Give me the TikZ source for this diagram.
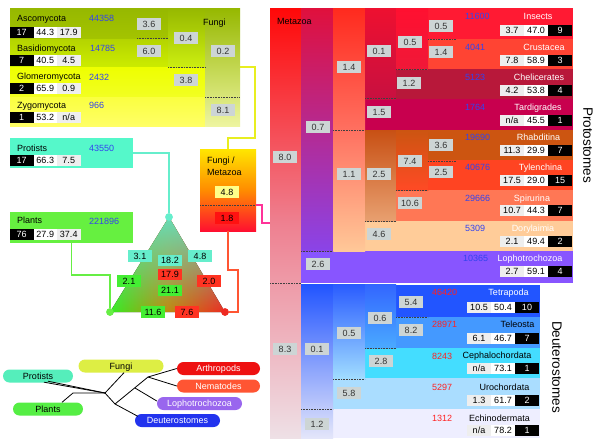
\documentclass[tikz,border=0pt]{standalone}
\usepackage{fontspec}
\setmainfont{Liberation Sans}
\usetikzlibrary{fadings}
\definecolor{numgray}{HTML}{CDD5D5}
\definecolor{cellgray}{HTML}{EEEEEE}
\definecolor{numblue}{HTML}{3344EE}
\definecolor{numred}{HTML}{FF2222}
\definecolor{ascoA}{HTML}{96B800}
\definecolor{ascoB}{HTML}{A4C400}
\definecolor{basiA}{HTML}{B4D400}
\definecolor{basiB}{HTML}{CCEC00}
\definecolor{glomA}{HTML}{EEFF00}
\definecolor{glomB}{HTML}{F2FF22}
\definecolor{zygoA}{HTML}{FAFF40}
\definecolor{zygoB}{HTML}{FFFF66}
\definecolor{nodeA}{HTML}{96B800}
\definecolor{nodeB}{HTML}{CCEE10}
\definecolor{fungA}{HTML}{96B800}
\definecolor{fungB}{HTML}{EEF5A0}
\definecolor{protc}{HTML}{55F8CA}
\definecolor{plantc}{HTML}{66F040}
\definecolor{fmA}{HTML}{FFE600}
\definecolor{fmM}{HTML}{FF8C00}
\definecolor{fmB}{HTML}{FF1030}
\definecolor{yline}{HTML}{E8EE20}
\definecolor{aline}{HTML}{66EECC}
\definecolor{gline}{HTML}{66EE44}
\definecolor{rline}{HTML}{FF5533}
\definecolor{mline}{HTML}{FF3399}
\definecolor{triG}{HTML}{33EE22}
\definecolor{triM}{HTML}{C08A10}
\definecolor{triR}{HTML}{EE2A22}
\definecolor{triA}{HTML}{66DDB8}
\definecolor{boxA}{HTML}{66EECC}
\definecolor{boxR}{HTML}{FF3322}
\definecolor{boxG}{HTML}{44EE33}
\definecolor{boxY}{HTML}{FFFF88}
\definecolor{boxRR}{HTML}{FF1111}
\definecolor{insc}{HTML}{FF1A33}
\definecolor{crusc}{HTML}{FF4433}
\definecolor{chelc}{HTML}{B8183A}
\definecolor{tardc}{HTML}{C8004E}
\definecolor{rhabc}{HTML}{CC5511}
\definecolor{tylc}{HTML}{FF4422}
\definecolor{spirc}{HTML}{FF7755}
\definecolor{doryc}{HTML}{FFCC99}
\definecolor{lophc}{HTML}{8855FF}
\definecolor{tetc}{HTML}{2255FF}
\definecolor{telc}{HTML}{4499FF}
\definecolor{cepc}{HTML}{44DDFF}
\definecolor{uroc}{HTML}{AADDFF}
\definecolor{echc}{HTML}{EEEEFF}
\definecolor{metA}{HTML}{FF0808}
\definecolor{metM}{HTML}{EE8090}
\definecolor{metB}{HTML}{EEE0E6}
\definecolor{pbA}{HTML}{E0103C}
\definecolor{pbB}{HTML}{8A44E8}
\definecolor{pcA}{HTML}{FF2A1E}
\definecolor{pcM}{HTML}{FF7060}
\definecolor{pcB}{HTML}{FFC898}
\definecolor{pdA}{HTML}{EE1030}
\definecolor{pdB}{HTML}{C81040}
\definecolor{pnA}{HTML}{C85014}
\definecolor{pnB}{HTML}{E8A070}
\definecolor{peA}{HTML}{FF1030}
\definecolor{peB}{HTML}{F01838}
\definecolor{pfA}{HTML}{CC5511}
\definecolor{pfB}{HTML}{FF4A25}
\definecolor{dbA}{HTML}{2255FF}
\definecolor{dbB}{HTML}{E4E6FA}
\definecolor{dcA}{HTML}{2A5CFF}
\definecolor{dcB}{HTML}{A0DCFF}
\definecolor{ddA}{HTML}{3366FF}
\definecolor{ddB}{HTML}{4AAAFF}
\definecolor{pfungi}{HTML}{DDEE44}
\definecolor{pprot}{HTML}{55EEBB}
\definecolor{pplant}{HTML}{55EE44}
\definecolor{parth}{HTML}{EE1111}
\definecolor{pnem}{HTML}{FF5533}
\definecolor{ploph}{HTML}{9966EE}
\definecolor{pdeut}{HTML}{2233EE}
\newcommand\fdata[5]{%
  \node[cellb,minimum width=23.5pt] (#1a) at (21.75,#2) {#3};
  \node[cellw,minimum width=23.5pt] (#1b) at (45.25,#2) {#4};
  \node[cellg,minimum width=23.5pt] (#1c) at (68.75,#2) {#5};}
\newcommand\mdata[5]{%
  \node[cellg] (#1a) at (512,#2) {#3};
  \node[cellw] (#1b) at (536,#2) {#4};
  \node[cellb] (#1c) at (560,#2) {#5};}
\newcommand\ddata[5]{%
  \node[cellg] (#1a) at (479,#2) {#3};
  \node[cellw] (#1b) at (503,#2) {#4};
  \node[cellb] (#1c) at (527,#2) {#5};}
\begin{document}
\begin{tikzpicture}[x=1pt,y=-1pt,
  lbl/.style={font=\fontsize{9}{10}\selectfont, inner sep=0pt, text height=6.6pt, text depth=0pt},
  nbox/.style={fill=numgray, minimum width=24pt, minimum height=11.5pt, inner sep=0pt, font=\fontsize{9}{10}\selectfont, text=black!80, text height=6.6pt, text depth=0pt},
  tbox/.style={nbox, text=black},
  cellb/.style={fill=black, text=white, minimum width=24pt, minimum height=11pt, inner sep=0pt, font=\fontsize{9}{10}\selectfont, text height=6.6pt, text depth=0pt},
  cellw/.style={cellb, fill=white, text=black},
  cellg/.style={cellb, fill=cellgray, text=black},
  dots/.style={densely dotted, line width=0.6pt, black!75},
  conn/.style={line width=1.6pt},
  tline/.style={line width=0.8pt, black},
  pill/.style={rounded corners=6.5pt, minimum height=13pt, minimum width=85pt, inner sep=0pt, font=\fontsize{9}{10}\selectfont, text height=6.6pt, text depth=0pt},
  side/.style={font=\fontsize{13.5}{14}\selectfont, rotate=-90, inner sep=0pt},
  bnum/.style={lbl, text=numblue, anchor=west},
  rnum/.style={lbl, text=numred, anchor=west},
  wl/.style={lbl, text=white},
  dotn/.style={circle, minimum size=7.5pt, inner sep=0pt},
]
\useasboundingbox[fill=white] (0,0) rectangle (600,445);

% ---------------- Fungi block ----------------
\fill[top color=ascoA, bottom color=ascoB] (10,8) rectangle (168,39);
\fill[top color=basiA, bottom color=basiB] (10,39) rectangle (168,67);
\fill[top color=glomA, bottom color=glomB] (10,67) rectangle (205,97);
\fill[top color=zygoA, bottom color=zygoB] (10,97) rectangle (205,126);
\fill[top color=nodeA, bottom color=nodeB] (168,8) rectangle (205,67);
\fill[top color=fungA, bottom color=fungB] (205,8) rectangle (240,126);
\draw[dots] (137,38.5) -- (168,38.5);
\draw[dots] (168,67) -- (205,67);
\draw[dots] (205,97) -- (240,97);
\coordinate (fungiE) at (240,67);

\node[lbl,anchor=west] (tAsco) at (17,18) {Ascomycota};
\node[bnum] (nAsco) at (89,18) {44358};
\fdata{dAsco}{32}{17}{44.3}{17.9}
\node[lbl,anchor=west] (tBasi) at (17,48) {Basidiomycota};
\node[bnum] (nBasi) at (90,48) {14785};
\fdata{dBasi}{60}{7}{40.5}{4.5}
\node[lbl,anchor=west] (tGlom) at (17,76) {Glomeromycota};
\node[bnum] (nGlom) at (89,77) {2432};
\fdata{dGlom}{88}{2}{65.9}{0.9}
\node[lbl,anchor=west] (tZygo) at (17,105) {Zygomycota};
\node[bnum] (nZygo) at (89,105) {966};
\fdata{dZygo}{117.5}{1}{53.2}{n/a}
\node[lbl,anchor=west] (tFungi) at (203,22) {Fungi};
\node[nbox] (f36) at (149,24) {3.6};
\node[nbox] (f60) at (149,51) {6.0};
\node[nbox] (f04) at (186,38) {0.4};
\node[nbox] (f38) at (186,80) {3.8};
\node[nbox] (f02) at (223,51) {0.2};
\node[nbox] (f81) at (223,110) {8.1};

% ---------------- Protists / Plants ----------------
\node[fill=protc, minimum width=123pt, minimum height=30pt, inner sep=0pt] (protists) at (71.5,153) {};
\node[lbl,anchor=west] (tProt) at (17,148) {Protists};
\node[bnum] (nProt) at (89,148) {43550};
\fdata{dProt}{160}{17}{66.3}{7.5}
\node[fill=plantc, minimum width=123pt, minimum height=31pt, inner sep=0pt] (plants) at (71.5,227.5) {};
\node[lbl,anchor=west] (tPlant) at (17,220) {Plants};
\node[bnum] (nPlant) at (89,221) {221896};
\fdata{dPlant}{234.5}{76}{27.9}{37.4}

% ---------------- Fungi / Metazoa box ----------------
\node[minimum width=56pt, minimum height=82pt, inner sep=0pt, top color=fmA, bottom color=fmB, middle color=fmM] (fm) at (228,190) {};
\node[lbl,anchor=west] (tFM1) at (207,160) {Fungi /};
\node[lbl,anchor=west] (tFM2) at (207,172) {Metazoa};
\node[tbox, fill=boxY] (fm48) at (227,192) {4.8};
\draw[dots] (200,205) -- (256,205);
\node[tbox, fill=boxRR] (fm18) at (227,218) {1.8};
\coordinate (fmE) at (256,205);
\coordinate (metaW) at (270,223);

% ---------------- Triangle ----------------
\node[dotn, fill=gline] (gdot) at (110,312) {};
\node[dotn, fill=aline] (adot) at (169,217) {};
\node[dotn, fill=triR] (rdot) at (225,312) {};
\fill[left color=triG, right color=triR, middle color=triM] (gdot.center) -- (adot.center) -- (rdot.center) -- cycle;
\fill[triA, path fading=south] (gdot.center) -- (adot.center) -- (rdot.center) -- cycle;

% connectors
\draw[conn, yline] (fungiE) -- ++(15,0) -- ++(0,71) -| (fm.north);
\draw[conn, aline] (protists.east) -| (adot);
\draw[conn, gline] (plants.south) -- ++(0,32) -| (gdot);
\draw[conn, rline] (fm.south) -- ++(0,39) -- ++(10,0) |- (rdot);
\draw[conn, mline] (fmE) -- ++(6,0) |- (metaW);
\node[dotn, fill=gline] (gdot2) at (gdot) {};
\node[dotn, fill=aline] (adot2) at (adot) {};
\node[dotn, fill=triR] (rdot2) at (rdot) {};

\node[tbox, fill=boxA] (t31) at (140,256) {3.1};
\node[tbox, fill=boxA] (t182) at (170,260.5) {18.2};
\node[tbox, fill=boxA] (t48) at (200,256) {4.8};
\node[tbox, fill=boxR] (t179) at (170,274.5) {17.9};
\node[tbox, fill=boxG] (t21) at (129,281) {2.1};
\node[tbox, fill=boxR] (t20) at (209,281) {2.0};
\node[tbox, fill=boxG] (t211) at (170,290.5) {21.1};
\node[tbox, fill=boxG] (t116) at (153,312) {11.6};
\node[tbox, fill=boxR] (t76) at (187,312) {7.6};

% ---------------- Metazoa block ----------------
\fill[top color=metA, bottom color=metB, middle color=metM] (270,8) rectangle (301,438);
% protostome rows
\fill[insc] (428,8) rectangle (573,39);
\fill[crusc] (428,39) rectangle (573,69);
\fill[chelc] (396,69) rectangle (573,99);
\fill[tardc] (365,99) rectangle (573,130);
\fill[rhabc] (428,130) rectangle (573,160);
\fill[tylc] (428,160) rectangle (573,190);
\fill[spirc] (396,190) rectangle (573,221);
\fill[doryc] (365,221) rectangle (573,251);
\fill[lophc] (301,251) rectangle (573,282.5);
% protostome nodes
\fill[top color=pbA, bottom color=pbB] (301,8) rectangle (333,251);
\fill[top color=pcA, bottom color=pcB, middle color=pcM] (333,8) rectangle (365,251);
\fill[top color=pdA, bottom color=pdB] (365,8) rectangle (396,99);
\fill[top color=pnA, bottom color=pnB] (365,130) rectangle (396,221);
\fill[top color=peA, bottom color=peB] (396,8) rectangle (428,69);
\fill[top color=pfA, bottom color=pfB] (396,130) rectangle (428,190);
% deuterostome rows
\fill[tetc] (396,284.5) rectangle (540,317);
\fill[telc] (396,317) rectangle (540,348);
\fill[cepc] (365,348) rectangle (540,378);
\fill[uroc] (333,378) rectangle (540,409);
\fill[echc] (333,409) rectangle (540,438);
\fill[top color=dbA, bottom color=dbB] (301,284.5) rectangle (333,438);
\fill[top color=dcA, bottom color=dcB] (333,284.5) rectangle (365,378);
\fill[top color=ddA, bottom color=ddB] (365,284.5) rectangle (396,348);

% dotted separators
\draw[dots] (270,283) -- (301,283);
\draw[dots] (301,251) -- (333,251);
\draw[dots] (333,130) -- (365,130);
\draw[dots] (365,98.5) -- (396,98.5);
\draw[dots] (365,221) -- (396,221);
\draw[dots] (396,69) -- (428,69);
\draw[dots] (396,190) -- (428,190);
\draw[dots] (428,39) -- (456,39);
\draw[dots] (428,161) -- (456,161);
\draw[dots] (301,409) -- (333,409);
\draw[dots] (333,379) -- (365,379);
\draw[dots] (365,348) -- (396,348);
\draw[dots] (396,317) -- (428,317);

\node[lbl,anchor=west] (tMeta) at (277,21) {Metazoa};
% branch lengths
\node[nbox] (m80) at (285,157) {8.0};
\node[nbox] (m83) at (285,349) {8.3};
\node[nbox] (m07) at (318,127) {0.7};
\node[nbox] (m26) at (318,264) {2.6};
\node[nbox] (m01d) at (317,349) {0.1};
\node[nbox] (m12d) at (317,424) {1.2};
\node[nbox] (m14) at (349,67) {1.4};
\node[nbox] (m11) at (349,174) {1.1};
\node[nbox] (m05d) at (349,333) {0.5};
\node[nbox] (m58) at (349,393) {5.8};
\node[nbox] (m01) at (379,51) {0.1};
\node[nbox] (m15) at (379,112) {1.5};
\node[nbox] (m25) at (379,174) {2.5};
\node[nbox] (m46) at (379,234) {4.6};
\node[nbox] (m06) at (380,318) {0.6};
\node[nbox] (m28) at (381,361) {2.8};
\node[nbox] (m05) at (410,42) {0.5};
\node[nbox] (m12) at (409,83) {1.2};
\node[nbox] (m74) at (410,161) {7.4};
\node[nbox] (m106) at (410,203) {10.6};
\node[nbox] (m54) at (411,302) {5.4};
\node[nbox] (m82) at (411,330) {8.2};
\node[nbox] (m05i) at (441,26) {0.5};
\node[nbox] (m14c) at (441,52) {1.4};
\node[nbox] (m36) at (441,145) {3.6};
\node[nbox] (m25t) at (441,172) {2.5};

% protostome labels
\node[bnum] (nIns) at (465,16) {11600};
\node[wl] (tIns) at (538,16) {Insects};
\mdata{dIns}{30.5}{3.7}{47.0}{9}
\node[bnum] (nCru) at (465,47) {4041};
\node[wl] (tCru) at (544,47) {Crustacea};
\mdata{dCru}{60.5}{7.8}{58.9}{3}
\node[bnum] (nChe) at (465,77) {5123};
\node[wl] (tChe) at (539,77) {Chelicerates};
\mdata{dChe}{90.5}{4.2}{53.8}{4}
\node[bnum] (nTar) at (465,107) {1764};
\node[wl] (tTar) at (538,107) {Tardigrades};
\mdata{dTar}{120.5}{n/a}{45.5}{1}
\node[bnum] (nRha) at (465,137) {19690};
\node[wl] (tRha) at (538.5,137) {Rhabditina};
\mdata{dRha}{150.5}{11.3}{29.9}{7}
\node[bnum] (nTyl) at (465,167) {40676};
\node[wl] (tTyl) at (540.5,167) {Tylenchina};
\mdata{dTyl}{180.5}{17.5}{29.0}{15}
\node[bnum] (nSpi) at (465,198) {29666};
\node[wl] (tSpi) at (532,198) {Spirurina};
\mdata{dSpi}{210.5}{10.7}{44.3}{7}
\node[bnum] (nDor) at (465,228) {5309};
\node[wl] (tDor) at (533,228) {Dorylaimia};
\mdata{dDor}{241.5}{2.1}{49.4}{2}
\node[bnum] (nLop) at (463,258) {10365};
\node[wl] (tLop) at (530,258) {Lophotrochozoa};
\mdata{dLop}{271.5}{2.7}{59.1}{4}

% deuterostome labels
\node[rnum] (nTet) at (432,292) {46420};
\node[wl] (tTet) at (508.5,292) {Tetrapoda};
\ddata{dTet}{307.5}{10.5}{50.4}{10}
\node[rnum] (nTel) at (432,324) {28971};
\node[lbl] (tTel) at (517.5,324) {Teleosta};
\ddata{dTel}{338}{6.1}{46.7}{7}
\node[rnum] (nCep) at (432,356) {8243};
\node[lbl] (tCep) at (497,355) {Cephalochordata};
\ddata{dCep}{368.5}{n/a}{73.1}{1}
\node[rnum] (nUro) at (432,387) {5297};
\node[lbl] (tUro) at (504.5,387) {Urochordata};
\ddata{dUro}{400}{1.3}{61.7}{2}
\node[rnum] (nEch) at (432,418) {1312};
\node[lbl] (tEch) at (499.5,418) {Echinodermata};
\ddata{dEch}{430.5}{n/a}{78.2}{1}

\node[side] (sProt) at (588,145) {Protostomes};
\node[side] (sDeut) at (557,367) {Deuterostomes};

% ---------------- Legend tree ----------------
\node[pill, fill=pfungi] (lfungi) at (121,366) {Fungi};
\node[pill, fill=pprot, minimum width=70pt] (lprot) at (38,376) {Protists};
\node[pill, fill=pplant, minimum width=70pt] (lplant) at (48,409) {Plants};
\node[pill, fill=parth, text=white, minimum width=83pt] (larth) at (218.5,368.5) {Arthropods};
\node[pill, fill=pnem, text=white, minimum width=83pt] (lnem) at (218.5,386) {Nematodes};
\node[pill, fill=ploph, text=white] (lloph) at (199.5,403.5) {Lophotrochozoa};
\node[pill, fill=pdeut, text=white] (ldeut) at (177.5,420.5) {Deuterostomes};
\coordinate (R) at (105,393);
\coordinate (M) at (115,404);
\coordinate (LB) at (135,388);
\coordinate (P) at (148,377);
\coordinate (PL) at (73,393);
\draw[tline] (R) -- ([xshift=3pt]lfungi.south);
\draw[tline] (R) -- ([xshift=6pt,yshift=0.5pt]lprot.south);
\draw[tline] (R) -- ([xshift=10pt,yshift=1.5pt]lprot.south);
\draw[tline] (R) -- (PL) -- ([xshift=14pt]lplant.north);
\draw[tline] (R) -- (M);
\draw[tline] (M) -- ([xshift=3pt,yshift=-2.5pt]ldeut.north west);
\draw[tline] (M) -- (P);
\draw[tline] (LB) -- ([yshift=2.5pt]lloph.west);
\draw[tline] (P) -- (larth.west);
\draw[tline] (P) -- (lnem.west);
\end{tikzpicture}
\end{document}
